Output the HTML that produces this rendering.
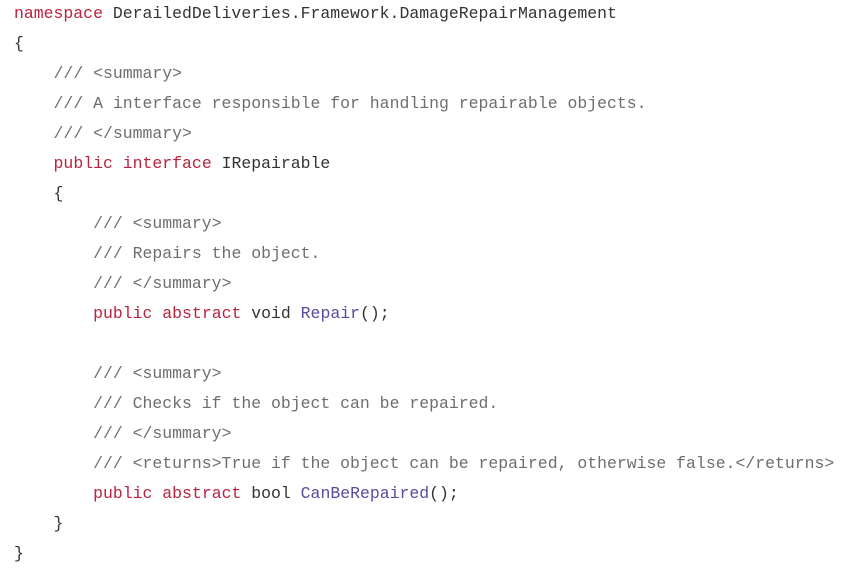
<!DOCTYPE html>
<html><head><meta charset="utf-8"><style>
html,body{margin:0;padding:0;background:#fff;width:847px;height:570px;overflow:hidden}
pre{margin:0;position:absolute;left:14px;top:-1px;font-family:"Liberation Mono",monospace;font-size:16.48px;line-height:30px;color:#333}
.k{color:#b8233f}.c{color:#6e6e6e}.m{color:#5b4a9e}
</style></head><body>
<pre><span class="k">namespace</span> DerailedDeliveries.Framework.DamageRepairManagement
{
    <span class="c">/// &lt;summary&gt;</span>
    <span class="c">/// A interface responsible for handling repairable objects.</span>
    <span class="c">/// &lt;/summary&gt;</span>
    <span class="k">public</span> <span class="k">interface</span> IRepairable
    {
        <span class="c">/// &lt;summary&gt;</span>
        <span class="c">/// Repairs the object.</span>
        <span class="c">/// &lt;/summary&gt;</span>
        <span class="k">public</span> <span class="k">abstract</span> void <span class="m">Repair</span>();

        <span class="c">/// &lt;summary&gt;</span>
        <span class="c">/// Checks if the object can be repaired.</span>
        <span class="c">/// &lt;/summary&gt;</span>
        <span class="c">/// &lt;returns&gt;True if the object can be repaired, otherwise false.&lt;/returns&gt;</span>
        <span class="k">public</span> <span class="k">abstract</span> bool <span class="m">CanBeRepaired</span>();
    }
}</pre>
</body></html>
